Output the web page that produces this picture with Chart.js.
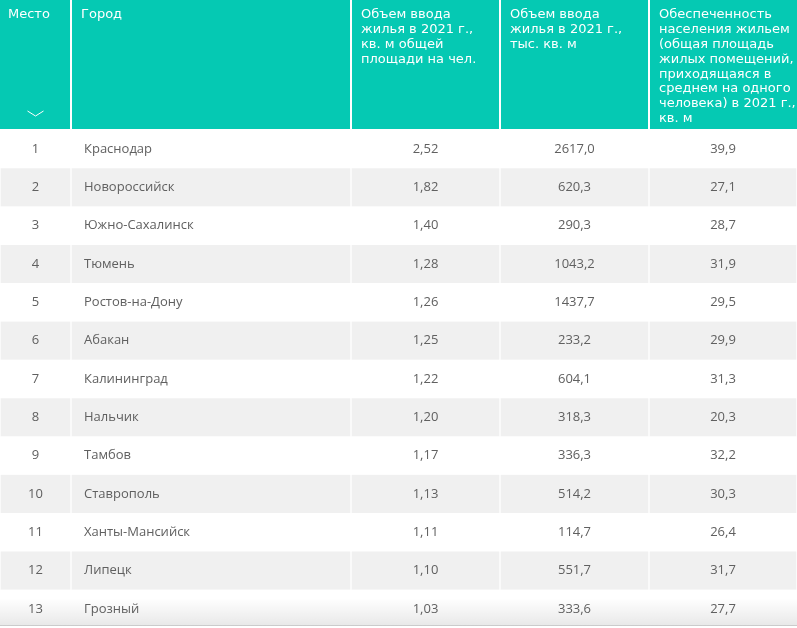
<!DOCTYPE html>
<html><head><meta charset="UTF-8">
<title>Рейтинг городов по вводу жилья</title>
<script src="https://cdn.jsdelivr.net/npm/chart.js"></script>
<style>
  html, body { margin: 0; padding: 0; background: #ffffff; }
  canvas { display: block; }
</style></head><body>
<canvas id="table" width="797" height="628"></canvas>
<script>
// data
const headers = [
  ['Место'],
  ['Город'],
  ['Объем ввода', 'жилья в 2021 г.,', 'кв. м общей', 'площади на чел.'],
  ['Объем ввода', 'жилья в 2021 г.,', 'тыс. кв. м'],
  ['Обеспеченность', 'населения жильем', '(общая площадь', 'жилых помещений,', 'приходящаяся в', 'среднем на одного', 'человека) в 2021 г.,', 'кв. м']
];
const ranks = [1, 2, 3, 4, 5, 6, 7, 8, 9, 10, 11, 12, 13];
const cities = ['Краснодар', 'Новороссийск', 'Южно-Сахалинск', 'Тюмень', 'Ростов-на-Дону', 'Абакан',
  'Калининград', 'Нальчик', 'Тамбов', 'Ставрополь', 'Ханты-Мансийск', 'Липецк', 'Грозный'];
const perCapita = [2.52, 1.82, 1.40, 1.28, 1.26, 1.25, 1.22, 1.20, 1.17, 1.13, 1.11, 1.10, 1.03];
const volume = [2617.0, 620.3, 290.3, 1043.2, 1437.7, 233.2, 604.1, 318.3, 336.3, 514.2, 114.7, 551.7, 333.6];
const provision = [39.9, 27.1, 28.7, 31.9, 29.5, 29.9, 31.3, 20.3, 32.2, 30.3, 26.4, 31.7, 27.7];

// layout
const colEdges = [0, 71, 351, 500, 649, 797];
const headerH = 130;
const teal = '#05c9b3';
const stripe = '#f0f0f0';
const textColor = '#606060';

const fmt = (v, d) => v.toFixed(d).replace('.', ',');
const cells = ranks.map((r, i) => [
  String(r), cities[i], fmt(perCapita[i], 2), fmt(volume[i], 1), fmt(provision[i], 1)
]);

const columnSets = colEdges.slice(0, -1).map((left, c) => ({
  label: 'col' + c,
  data: cities.map(() => [left, colEdges[c + 1]]),
  backgroundColor: cities.map((_, i) => i % 2 === 1 ? stripe : '#ffffff'),
  borderColor: '#ffffff',
  borderWidth: { left: 1, right: 1, top: 0, bottom: 0 },
  borderSkipped: false,
  grouped: false,
  barPercentage: 1,
  categoryPercentage: 1
}));

const tablePlugin = {
  id: 'tablePlugin',
  beforeDraw(chart) {
    const ctx = chart.ctx;
    ctx.save();
    ctx.fillStyle = '#ffffff';
    ctx.fillRect(0, 0, chart.width, chart.height);
    ctx.fillStyle = teal;
    ctx.fillRect(0, 0, chart.width, headerH - 1);
    ctx.fillStyle = '#ffffff';
    colEdges.slice(1, -1).forEach(x => ctx.fillRect(x - 1, 0, 2, headerH));
    ctx.font = '13px "DejaVu Sans", sans-serif';
    ctx.textBaseline = 'middle';
    ctx.textAlign = 'left';
    headers.forEach((lines, c) => {
      const x = colEdges[c] + (c === 0 ? 8 : 10);
      lines.forEach((t, k) => ctx.fillText(t, x, 15 + k * 14.8));
    });
    // sort chevron
    const cx = (colEdges[0] + colEdges[1]) / 2;
    ctx.strokeStyle = '#ffffff';
    ctx.lineWidth = 1;
    ctx.beginPath();
    ctx.moveTo(cx - 8, 111);
    ctx.lineTo(cx, 116);
    ctx.lineTo(cx + 8, 111);
    ctx.stroke();
    ctx.restore();
  },
  afterDatasetsDraw(chart) {
    const ctx = chart.ctx;
    const xs = chart.scales.x, ys = chart.scales.y;
    ctx.save();
    // fade on last row
    const g = ctx.createLinearGradient(0, 598, 0, 626);
    g.addColorStop(0, 'rgba(0,0,0,0)');
    g.addColorStop(1, 'rgba(0,0,0,0.09)');
    ctx.fillStyle = g;
    ctx.fillRect(0, 598, chart.width, 28);
    ctx.fillStyle = 'rgba(0,0,0,0.12)';
    ctx.fillRect(0, 625, chart.width, 1);
    ctx.fillStyle = '#ffffff';
    ctx.fillRect(0, 626, chart.width, 2);

    ctx.font = '13px "Open Sans", sans-serif';
    ctx.fillStyle = textColor;
    ctx.textBaseline = 'middle';
    cells.forEach((row, i) => {
      const y = ys.getPixelForValue(i);
      row.forEach((t, c) => {
        if (c === 1) {
          ctx.textAlign = 'left';
          ctx.fillText(t, xs.getPixelForValue(colEdges[1] + 13), y);
        } else {
          ctx.textAlign = 'center';
          ctx.fillText(t, xs.getPixelForValue((colEdges[c] + colEdges[c + 1]) / 2), y);
        }
      });
    });
    ctx.restore();
  }
};

new Chart(document.getElementById('table').getContext('2d'), {
  type: 'bar',
  data: { labels: cities, datasets: columnSets },
  options: {
    indexAxis: 'y',
    responsive: false,
    animation: false,
    layout: { padding: { top: headerH, left: 0, right: 0, bottom: 0 } },
    plugins: { legend: { display: false }, tooltip: { enabled: false } },
    scales: {
      x: { type: 'linear', min: colEdges[0], max: colEdges[colEdges.length - 1], display: false },
      y: { type: 'category', display: false, offset: true }
    }
  },
  plugins: [tablePlugin]
});
</script>
</body></html>
